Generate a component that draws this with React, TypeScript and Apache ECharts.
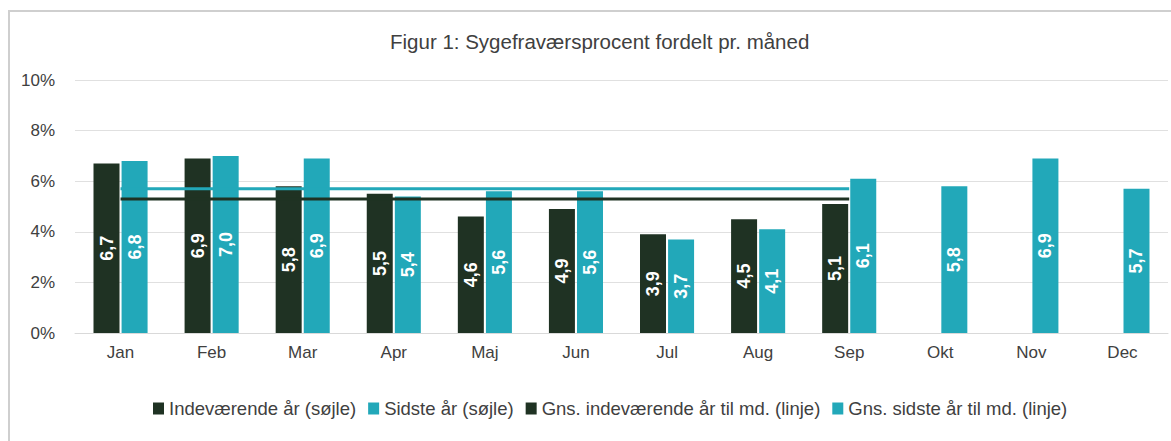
import React, { useEffect, useRef } from "react";
import * as echarts from "echarts";

const months = ["Jan", "Feb", "Mar", "Apr", "Maj", "Jun", "Jul", "Aug", "Sep", "Okt", "Nov", "Dec"];
const currentYear = [6.7, 6.9, 5.8, 5.5, 4.6, 4.9, 3.9, 4.5, 5.1, null, null, null];
const lastYear = [6.8, 7.0, 6.9, 5.4, 5.6, 5.6, 3.7, 4.1, 6.1, 5.8, 6.9, 5.7];
const avgCurrent = [5.3, 5.3, 5.3, 5.3, 5.3, 5.3, 5.3, 5.3, 5.3, null, null, null];
const avgLast = [5.7, 5.7, 5.7, 5.7, 5.7, 5.7, 5.7, 5.7, 5.7, null, null, null];
const yTicks = [0, 2, 4, 6, 8, 10];
const seriesNames = [
  "Indeværende år (søjle)",
  "Sidste år (søjle)",
  "Gns. indeværende år til md. (linje)",
  "Gns. sidste år til md. (linje)",
];
const title = "Figur 1: Sygefraværsprocent fordelt pr. måned";

const DARK = "#1f3223";
const CYAN = "#22a8b9";
const FONT = "'Liberation Sans', Arial, sans-serif";

export default function App() {
  const ref = useRef<HTMLDivElement>(null);
  useEffect(() => {
    document.body.style.margin = "0";
    document.documentElement.style.overflow = "hidden";
    const chart = echarts.init(ref.current!, null, { renderer: "svg" });
    const label = {
      show: true,
      position: "inside",
      rotate: 90,
      color: "#ffffff",
      fontWeight: "bold",
      fontSize: 18,
      fontFamily: FONT,
      formatter: (p: any) => Number(p.value).toFixed(1).replace(".", ","),
    };
    chart.setOption({
      animation: false,
      backgroundColor: "#ffffff",
      textStyle: { fontFamily: FONT },
      title: {
        text: title,
        left: 385,
        top: 26,
        textStyle: { fontFamily: FONT, fontSize: 20.5, fontWeight: "normal", color: "#404040" },
      },
      graphic: [
        {
          type: "line",
          shape: { x1: 9, y1: 10, x2: 9, y2: 441 },
          style: { stroke: "#cfcfcf", lineWidth: 2 },
          silent: true,
          z: -1,
        },
        {
          type: "line",
          shape: { x1: 8, y1: 11, x2: 1171, y2: 11 },
          style: { stroke: "#cfcfcf", lineWidth: 2 },
          silent: true,
          z: -1,
        },
      ],
      legend: {
        bottom: 18,
        left: 148,
        icon: "rect",
        itemWidth: 11,
        itemHeight: 12,
        itemGap: 12,
        data: seriesNames,
        textStyle: { fontFamily: FONT, fontSize: 18.5, color: "#404040" },
      },
      grid: { left: 75, right: 3, top: 80, bottom: 108 },
      xAxis: {
        type: "category",
        data: months,
        axisTick: { show: false },
        axisLine: { lineStyle: { color: "#d9d9d9", width: 1 } },
        axisLabel: { fontSize: 17, color: "#404040", fontFamily: FONT, margin: 11 },
      },
      yAxis: {
        type: "value",
        min: yTicks[0],
        max: yTicks[yTicks.length - 1],
        interval: 2,
        axisLine: { show: false },
        axisLabel: { fontSize: 17, color: "#404040", fontFamily: FONT, margin: 20, formatter: "{value}%" },
        splitLine: { lineStyle: { color: "#e0e0e0", width: 1 } },
      },
      series: [
        {
          name: seriesNames[0],
          type: "bar",
          data: currentYear,
          barWidth: 26,
          barGap: "8%",
          itemStyle: { color: DARK },
          label,
          z: 2,
        },
        {
          name: seriesNames[1],
          type: "bar",
          data: lastYear,
          barWidth: 26,
          itemStyle: { color: CYAN },
          label,
          z: 2,
        },
        {
          name: seriesNames[2],
          type: "line",
          data: avgCurrent,
          showSymbol: false,
          symbol: "none",
          lineStyle: { color: DARK, width: 3 },
          itemStyle: { color: DARK },
          z: 5,
        },
        {
          name: seriesNames[3],
          type: "line",
          data: avgLast,
          showSymbol: false,
          symbol: "none",
          lineStyle: { color: CYAN, width: 3 },
          itemStyle: { color: CYAN },
          z: 5,
        },
      ],
    });
    return () => chart.dispose();
  }, []);
  return <div ref={ref} style={{ width: 1171, height: 441 }} />;
}
